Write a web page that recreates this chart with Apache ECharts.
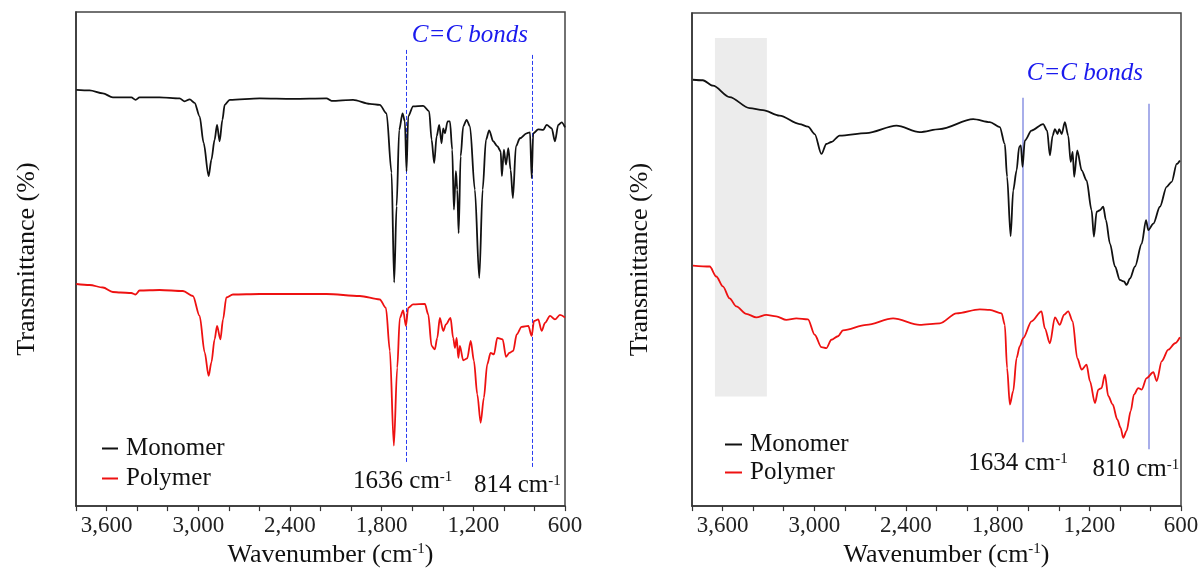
<!DOCTYPE html>
<html>
<head>
<meta charset="utf-8">
<script src="https://cdn.jsdelivr.net/npm/echarts@6/dist/echarts.min.js"></script>
<style>html,body{margin:0;padding:0;background:#fff;}#c{width:1202px;height:573px;}</style>
</head>
<body>
<div id="c"></div>
<script>
// ---------- Left panel data (wavenumber cm-1, transmittance a.u.) ----------
const leftMonoWn = [3798,3711,3624,3559,3515,3438,3410,3384,3253,3122,3089,3056,3024,2991,2965,2932,2914,2893,2877,2860,2842,2827,2794,2598,2382,2161,2128,1987,1877,1812,1768,1735,1718,1702,1685,1663,1648,1637,1626,1594,1528,1489,1473,1456,1440,1423,1408,1397,1386,1368,1353,1338,1327,1314,1305,1296,1283,1266,1244,1222,1190,1161,1139,1117,1096,1070,1043,1021,1013,1000,986,971,956,941,921,895,851,829,818,808,775,742,720,687,666,644,622,600];
const leftMonoT  = [83.4,83.3,82.7,81.9,81.9,81.9,81.4,81.9,81.9,81.7,81.1,81.5,80.8,78.1,72.8,66.1,69.4,73.4,76.4,73.1,77.4,80.4,81.4,81.7,81.6,81.7,81.2,81.4,80.6,80.4,78.7,66.8,44.8,60.1,75.4,78.7,77.1,67.1,78.1,80.1,80.2,79.1,73.4,68.7,74.1,76.4,72.7,75.7,74.7,77.1,77.1,71.4,59.4,67.1,63.4,54.7,70.1,76.1,77.4,76.1,63.4,45.7,63.4,73.4,75.3,73.1,72.1,71.1,66.1,71.4,68.4,71.7,67.4,61.7,72.1,73.7,74.7,74.9,65.7,74.7,75.5,75.4,76.4,75.7,73.1,76.4,76.9,75.9];
const leftPolyWn = [3798,3711,3624,3559,3510,3438,3410,3384,3253,3100,3035,2991,2958,2932,2914,2893,2877,2855,2838,2816,2773,2598,2161,1943,1812,1772,1746,1720,1698,1681,1659,1641,1626,1594,1517,1495,1473,1452,1436,1419,1397,1379,1349,1332,1320,1309,1298,1288,1266,1240,1217,1196,1174,1152,1131,1109,1087,1065,1043,1008,986,964,939,916,884,840,818,803,775,753,731,698,666,633,600];
const leftPolyT  = [44.5,44.3,43.8,42.9,42.8,42.7,42.4,43.2,43.3,43.1,42.1,38.1,30.8,26.1,28.8,33.4,36.1,33.4,37.4,41.8,42.4,42.5,42.5,42.1,41.4,39.7,31.1,12.1,27.7,37.7,39.2,36.1,39.7,40.4,40.5,38.4,32.1,31.4,33.7,37.7,35.1,36.4,37.7,33.7,31.7,33.7,29.7,32.1,29.2,29.6,33.1,29.1,22.4,16.7,21.7,28.4,30.7,30.4,33.7,33.4,29.9,30.7,31.1,34.4,35.9,36.1,34.1,37.1,37.4,35.1,36.7,38.1,37.4,38.3,37.8];

// ---------- Right panel data ----------
const rightMonoWn = [3794,3729,3663,3554,3423,3336,3227,3096,3041,2997,2953,2921,2888,2834,2659,2462,2310,2179,1960,1851,1786,1753,1738,1715,1698,1676,1659,1648,1637,1622,1578,1502,1476,1458,1440,1425,1408,1397,1381,1360,1338,1322,1309,1299,1279,1250,1218,1185,1170,1152,1131,1109,1091,1065,1032,1000,973,956,934,901,857,829,814,781,738,694,661,628,607];
const rightMonoT  = [85.6,85.5,84.4,82.1,79.9,79.5,78.4,76.7,76.2,74.7,70.7,72.7,73.1,74.4,74.9,76.4,75.1,75.7,77.7,77.1,76.1,72.7,66.1,54.2,63.4,67.4,72.1,72.4,68.1,73.4,75.4,76.7,75.4,70.4,74.4,75.7,74.7,75.7,74.7,77.1,74.4,69.1,71.1,66.1,71.4,67.4,65.4,59.4,54.1,59.1,59.4,60.1,57.4,52.7,48.1,45.4,45.1,44.4,45.7,48.1,52.7,57.4,55.4,56.7,60.1,64.1,65.1,68.7,69.4];
const rightPolyWn = [3794,3684,3641,3598,3554,3510,3445,3379,3314,3249,3183,3117,3041,2997,2953,2921,2888,2845,2812,2659,2484,2310,2179,2069,1917,1851,1774,1753,1738,1720,1698,1676,1655,1633,1578,1513,1491,1458,1425,1393,1366,1338,1309,1279,1250,1218,1196,1163,1141,1120,1098,1076,1047,1017,995,978,956,929,908,880,857,825,781,759,726,683,639,607];
const rightPolyT  = [48.3,48.1,46.1,44.1,41.7,40.1,38.6,37.9,38.4,38.1,37.4,37.7,37.5,34.4,31.9,31.7,33.4,34.1,35.3,36.4,37.7,36.4,36.7,38.7,39.5,39.4,38.7,36.4,27.7,20.4,23.1,29.7,32.1,33.7,37.1,39.1,35.7,32.7,37.9,36.4,38.4,39.1,37.1,29.7,27.4,28.4,25.1,20.7,23.4,23.7,26.4,22.1,20.4,17.4,15.7,13.7,15.1,19.1,22.4,23.7,23.4,25.7,26.9,25.1,29.1,31.4,32.7,33.9];

// ---------- Annotations ----------
const seriesNames = ['Monomer', 'Polymer'];
const leftPeaks = [1636, 814];
const rightPeaks = [1634, 810];
const bondLabel = 'C=C bonds';
const shadedRange = [3650, 3310];
const xTickLabels = [600, 1200, 1800, 2400, 3000, 3600];

const zip = (a, b) => a.map((v, i) => [v, b[i]]);
const serif = 'Liberation Serif, Times New Roman, serif';
const supRich = {
  sup: { fontSize: 15, verticalAlign: 'top', fontFamily: serif, color: '#111', padding: [0, 0, 10, 0] }
};

function xAxisCfg(gi) {
  return {
    type: 'value', gridIndex: gi, inverse: true, min: 600, max: 3800, interval: 200,
    name: 'Wavenumber (cm{sup|-1})', nameLocation: 'middle', nameGap: 32,
    nameTextStyle: { fontSize: 26, fontFamily: serif, color: '#111', padding: [0, 0, 0, 20], rich: supRich },
    axisLine: { show: true, onZero: false, lineStyle: { color: '#333', width: 1.5 } },
    axisTick: { show: true, length: 5, lineStyle: { color: '#333', width: 1.2 } },
    splitLine: { show: false },
    axisLabel: {
      fontSize: 23, fontFamily: serif, color: '#222', margin: 8, showMinLabel: true, showMaxLabel: true,
      formatter: v => xTickLabels.includes(v) ? v.toLocaleString('en-US') : ''
    }
  };
}
function yAxisCfg(gi, gap) {
  return {
    type: 'value', gridIndex: gi, min: 0, max: 99,
    name: 'Transmittance (%)', nameLocation: 'middle', nameRotate: 90, nameGap: gap,
    nameTextStyle: { fontSize: 26, fontFamily: serif, color: '#111' },
    axisLine: { show: true, lineStyle: { color: '#333', width: 1.5 } },
    axisTick: { show: false }, axisLabel: { show: false }, splitLine: { show: false }
  };
}
function peakLabel(text, shift, dist) {
  return {
    show: true, position: 'end', distance: dist, formatter: text + ' cm{sup|-1}',
    fontSize: 25, fontFamily: serif, color: '#111',
    padding: shift > 0 ? [0, 0, 0, shift] : [0, -shift, 0, 0], rich: supRich
  };
}

const leftLineStyle = { color: '#2a3cf0', width: 1, type: [4, 2] };
const rightLineStyle = { color: '#a8aeea', width: 2, type: 'solid' };
const lineCommon = { type: 'line', showSymbol: false, smooth: 0.3, smoothMonotone: 'x', z: 3 };
const blackStyle = { color: '#111', width: 1.8 };
const redStyle = { color: '#ee1111', width: 1.8 };

const option = {
  backgroundColor: '#fff',
  animation: false,
  grid: [
    { left: 76, right: 637, top: 12, bottom: 66, show: true, borderColor: '#444', borderWidth: 1.5 },
    { left: 692, right: 21, top: 13, bottom: 66, show: true, borderColor: '#444', borderWidth: 1.5 }
  ],
  xAxis: [xAxisCfg(0), xAxisCfg(1)],
  yAxis: [yAxisCfg(0, 36), yAxisCfg(1, 39)],
  legend: [
    { orient: 'vertical', left: 97, top: 431, itemGap: 5, icon: 'rect', itemWidth: 16, itemHeight: 2,
      data: seriesNames, textStyle: { fontSize: 25, fontFamily: serif, color: '#111', padding: [0, 0, 0, 3] }, selectedMode: false },
    { orient: 'vertical', left: 720, top: 427, itemGap: 3, icon: 'rect', itemWidth: 17, itemHeight: 2,
      data: seriesNames, textStyle: { fontSize: 25, fontFamily: serif, color: '#111', padding: [0, 0, 0, 3] }, selectedMode: false }
  ],
  series: [
    Object.assign({}, lineCommon, { name: seriesNames[0], xAxisIndex: 0, yAxisIndex: 0, data: zip(leftMonoWn, leftMonoT),
      lineStyle: blackStyle, itemStyle: { color: '#111' },
      markLine: {
        symbol: 'none', silent: true, lineStyle: leftLineStyle, z: 2,
        data: [
          [{ coord: [leftPeaks[0], 91.4] }, { coord: [leftPeaks[0], 8.8], label: peakLabel(String(leftPeaks[0]), -8, 7) }],
          [{ coord: [leftPeaks[1], 90.4] }, { coord: [leftPeaks[1], 7.8], label: peakLabel(String(leftPeaks[1]), -30, 6) }]
        ]
      },
      markPoint: {
        symbol: 'circle', symbolSize: 0, silent: true,
        label: { show: true, position: 'inside', formatter: bondLabel, fontSize: 25, fontStyle: 'italic', fontFamily: serif, color: '#1a1aee' },
        data: [{ coord: [1222, 94.4] }]
      }
    }),
    Object.assign({}, lineCommon, { name: seriesNames[1], xAxisIndex: 0, yAxisIndex: 0, data: zip(leftPolyWn, leftPolyT),
      lineStyle: redStyle, itemStyle: { color: '#ee1111' } }),
    Object.assign({}, lineCommon, { name: seriesNames[0], xAxisIndex: 1, yAxisIndex: 1, data: zip(rightMonoWn, rightMonoT),
      lineStyle: blackStyle, itemStyle: { color: '#111' },
      markArea: {
        silent: true, itemStyle: { color: '#ececec' },
        data: [[{ coord: [shadedRange[0], 94] }, { coord: [shadedRange[1], 22] }]]
      },
      markLine: {
        symbol: 'none', silent: true, lineStyle: rightLineStyle, z: 2,
        data: [
          [{ coord: [rightPeaks[0], 82] }, { coord: [rightPeaks[0], 12.8], label: peakLabel(String(rightPeaks[0]), -10, 9) }],
          [{ coord: [rightPeaks[1], 80.8] }, { coord: [rightPeaks[1], 11.4], label: peakLabel(String(rightPeaks[1]), -26, 8) }]
        ]
      },
      markPoint: {
        symbol: 'circle', symbolSize: 0, silent: true,
        label: { show: true, position: 'inside', formatter: bondLabel, fontSize: 25, fontStyle: 'italic', fontFamily: serif, color: '#1a1aee' },
        data: [{ coord: [1229, 86.8] }]
      }
    }),
    Object.assign({}, lineCommon, { name: seriesNames[1], xAxisIndex: 1, yAxisIndex: 1, data: zip(rightPolyWn, rightPolyT),
      lineStyle: redStyle, itemStyle: { color: '#ee1111' } })
  ]
};
const chart = echarts.init(document.getElementById('c'), null, { renderer: 'canvas' });
chart.setOption(option);
</script>
</body>
</html>
